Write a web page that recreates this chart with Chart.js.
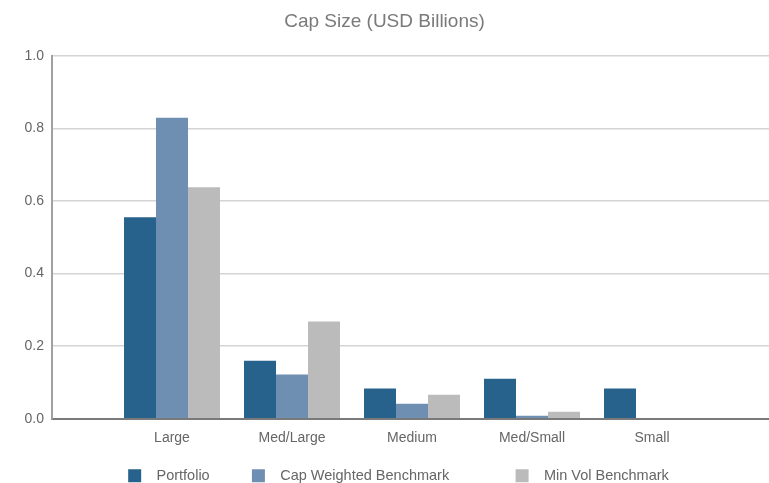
<!DOCTYPE html>
<html>
<head>
<meta charset="utf-8">
<script src="https://cdn.jsdelivr.net/npm/chart.js@4.4.1/dist/chart.umd.min.js"></script>
<style>
    html, body { margin: 0; padding: 0; background: #fff; }
    #wrap { width: 769px; height: 483px; }
</style>
</head>
<body>
<div id="wrap"><canvas id="capChart"></canvas></div>
<script>
const categories = ['Large', 'Med/Large', 'Medium', 'Med/Small', 'Small'];
const portfolio = [0.555, 0.160, 0.083, 0.110, 0.083];
const capWeighted = [0.829, 0.122, 0.041, 0.008, 0];
const minVol = [0.638, 0.268, 0.066, 0.019, 0];
const yTicks = [0, 0.2, 0.4, 0.6, 0.8, 1.0];

// categories sit at 1..5 on the x axis, with an empty slot on the left and
// the right end of the axis running slightly off the canvas, like the original
const xMin = 0;
const xMax = 5.975;
const toPoints = (arr) => arr.map((v, i) => ({ x: i + 1, y: v }));

// spacing of the legend entries (leading / trailing spaces)
const legendGapBefore = 2;
const legendGapAfter = [8, 14, 0];

Chart.defaults.font.family = '"Liberation Sans", Arial, sans-serif';
Chart.defaults.color = '#666';

// title is centred on the whole canvas, legend sits a little right of centre
const boxShift = {
    id: 'boxShift',
    afterLayout(chart) {
        chart.legend.left += 3;
        chart.legend.right += 3;
        chart.titleBlock.left -= 11;
        chart.titleBlock.right -= 11;
    }
};

const ctx = document.getElementById('capChart').getContext('2d');
new Chart(ctx, {
    type: 'bar',
    data: {
        datasets: [
            { label: 'Portfolio', data: toPoints(portfolio), backgroundColor: '#27628d' },
            { label: 'Cap Weighted Benchmark', data: toPoints(capWeighted), backgroundColor: '#6f8fb2' },
            { label: 'Min Vol Benchmark', data: toPoints(minVol), backgroundColor: '#bbbbbb' }
        ]
    },
    options: {
        responsive: true,
        maintainAspectRatio: false,
        animation: false,
        categoryPercentage: 0.8,
        barPercentage: 1.0,
        layout: { padding: { left: 22, right: 0, top: 0, bottom: -10 } },
        plugins: {
            title: {
                display: true,
                text: 'Cap Size (USD Billions)',
                color: '#7a7a7a',
                font: { size: 19, weight: 'normal' },
                padding: { top: 10, bottom: 23 }
            },
            legend: {
                position: 'bottom',
                labels: {
                    boxWidth: 13,
                    boxHeight: 13,
                    padding: 10,
                    color: '#666',
                    font: { size: 14.5 },
                    generateLabels: (chart) => {
                        const items = Chart.defaults.plugins.legend.labels.generateLabels(chart);
                        items.forEach((item, i) => {
                            item.text = ' '.repeat(legendGapBefore) + item.text + ' '.repeat(legendGapAfter[i]);
                        });
                        return items;
                    }
                }
            },
            tooltip: { enabled: false }
        },
        scales: {
            x: {
                type: 'linear',
                min: xMin,
                max: xMax,
                offset: false,
                grid: { display: false, offset: false },
                border: { display: true, color: '#7a7a7a', width: 2 },
                afterBuildTicks: (axis) => { axis.ticks = categories.map((c, i) => ({ value: i + 1 })); },
                afterFit: (axis) => { axis.height += 9; },
                ticks: {
                    color: '#666',
                    font: { size: 14 },
                    padding: 3,
                    maxRotation: 0,
                    autoSkip: false,
                    callback: (value) => categories[value - 1]
                }
            },
            y: {
                min: 0,
                max: 1,
                afterBuildTicks: (axis) => { axis.ticks = yTicks.map(v => ({ value: v })); },
                afterFit: (axis) => { axis.width = 30; },
                grid: { color: '#d4d4d4', lineWidth: 1.5, drawTicks: false },
                border: { display: true, color: '#a0a0a0', width: 2 },
                ticks: {
                    color: '#666',
                    font: { size: 14 },
                    padding: 8,
                    callback: (value) => value.toFixed(1)
                }
            }
        }
    },
    plugins: [boxShift]
});
</script>
</body>
</html>
